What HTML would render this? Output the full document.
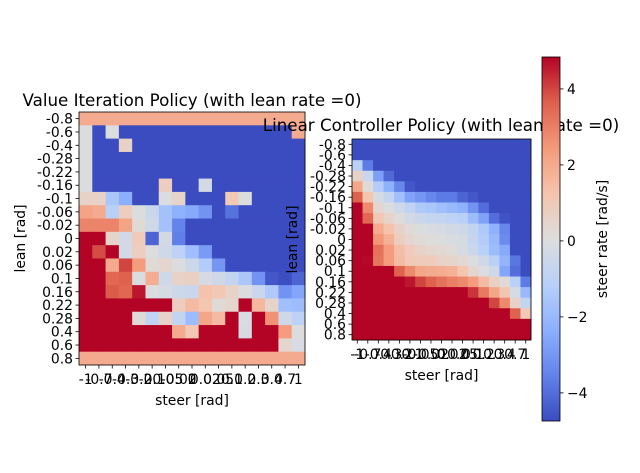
<!DOCTYPE html>
<html><head><meta charset="utf-8"><style>
html,body{margin:0;padding:0;background:#fff}
svg{display:block;font-family:"DejaVu Sans","Liberation Sans",sans-serif}
</style></head><body>
<svg id="fig" width="640" height="473" viewBox="0 0 640 473" xmlns="http://www.w3.org/2000/svg"></svg>
<script>
const R=4.85,B=-4.85,S=2.0;
const rowLabels=["-0.8","-0.6","-0.4","-0.28","-0.22","-0.16","-0.1","-0.06","-0.02","0","0.02","0.06","0.1","0.16","0.22","0.28","0.4","0.6","0.8"];
const colLabels=["-1","-0.7","-0.4","-0.3","-0.2","-0.1","-0.05","-0.02","0","0.02","0.05","0.1","0.2","0.3","0.4","0.7","1"];
const cbTicks=[4,2,0,-2,-4];
const cbTickLabels=["4","2","0","\u22122","\u22124"];
const vmin=-4.74, vmax=4.84;
function rep(v,n){return Array(n).fill(v);}
const valueIteration=[
rep(S,17),
[0,B,0,...rep(B,13),S],
[0,B,B,0.6,...rep(B,13)],
[0,...rep(B,16)],
[0,...rep(B,16)],
[0,B,B,B,B,B,0.8,B,B,-0.3,B,B,B,B,B,B,B],
[0.6,0.6,-1.5,-2.4,B,B,0,0.5,B,B,B,1.0,0,B,B,B,B],
[2.2,2.0,-1.1,0.8,0,-0.6,-1.7,-2.3,-2.5,-3.1,B,-3.9,B,B,B,B,B],
[2.9,2.9,2.9,2.2,0.2,-0.4,-1.7,-3.5,...rep(B,9)],
[R,R,0.5,-0.3,0.9,-4.2,-0.3,-3.6,...rep(B,9)],
[R,3.9,R,-0.3,0.8,0,-0.4,-1.0,-1.8,-2.9,...rep(B,7)],
[R,R,2.0,4.0,2.4,0.2,0.4,0,-0.5,-1.3,-3.0,...rep(B,6)],
[R,R,3.5,3.6,0,1.9,-0.4,0.6,0.7,-0.2,-0.4,-0.8,-1.5,-3.1,-4.5,-4.7,-4.2],
[R,R,3.7,3.5,4.6,0,-0.2,-0.5,-0.6,1.3,1.1,0.6,0,-0.6,-1.4,-3.1,-2.6],
[...rep(R,7),0.8,1.5,1.2,0.2,0.4,R,1.6,0.5,-1.8,-1.9],
[...rep(R,4),0.2,-0.9,0.6,-0.8,-1.9,2.1,1.5,R,-0.1,R,2.6,-0.4,-1.0],
[...rep(R,7),2.0,1.1,R,R,R,-0.2,R,R,2.4,0],
[...rep(R,15),0.4,-0.1],
rep(S,17)
];
const linearController=[
rep(B,17),
rep(B,17),
[-1.1,-3.7,...rep(B,15)],
[0.6,-0.6,-2.8,-4.1,...rep(B,13)],
[2.1,0.2,-1.3,-2.3,-3.4,-4.5,...rep(B,11)],
[3.6,1.2,-0.2,-0.8,-1.8,-2.7,-3.0,-3.4,-3.7,-3.7,-4.2,-4.5,...rep(B,5)],
[R,2.8,0.4,0,-0.4,-0.9,-1.4,-1.5,-1.8,-2.0,-2.3,-3.1,-4.0,...rep(B,4)],
[R,3.5,1.1,0.5,0.1,-0.3,-0.6,-0.7,-0.8,-1.0,-1.1,-1.9,-2.7,-4.0,-4.6,B,B],
[R,R,2.0,1.3,0.6,0.2,0,-0.1,-0.2,-0.3,-0.5,-0.8,-1.4,-2.3,-3.4,B,B],
[R,R,2.5,1.8,0.8,0.4,0.2,0.1,0,-0.1,-0.2,-0.7,-1.3,-2.0,-3.3,B,B],
[R,R,3.3,2.4,1.4,0.9,0.6,0.4,0.3,0.15,-0.2,-0.6,-1.1,-1.9,-2.5,B,B],
[R,4.8,3.2,2.4,1.5,1.0,0.9,0.9,0.6,0.5,0.3,0,-0.4,-1.1,-2.2,-3.8,B],
[R,R,R,R,3.6,2.8,2.1,2.0,1.9,1.8,1.2,0.4,0,-0.4,-2.6,-4.0,B],
[R,R,R,R,R,4.6,4.0,3.6,3.3,3.0,2.8,2.4,1.5,0.7,0.2,-1.1,-3.7],
[...rep(R,11),4.2,3.1,2.1,1.2,-0.2,-2.0],
[...rep(R,13),4.0,2.8,0.6,-0.8],
[...rep(R,15),3.6,1.0],
rep(R,17),
rep(R,17)
];
const cm=[[59,76,192],[98,130,234],[141,176,254],[184,208,249],[221,221,221],[245,196,173],[244,154,123],[222,96,77],[180,4,38]];
function color(v){let t=(v-vmin)/(vmax-vmin);t=Math.max(0,Math.min(1,t));const f=t*8,i=Math.min(7,Math.floor(f)),u=f-i;const a=cm[i],b=cm[i+1];return `rgb(${a.map((x,k)=>Math.round(x+(b[k]-x)*u)).join(',')})`;}
const NS="http://www.w3.org/2000/svg",svg=document.getElementById('fig');
function el(tag,attrs,parent){const e=document.createElementNS(NS,tag);for(const k in attrs)e.setAttribute(k,attrs[k]);(parent||svg).appendChild(e);return e;}
function txt(s,attrs,parent){const e=el('text',attrs,parent);e.textContent=s;return e;}
const FS=13.9, TFS=16.7;
function heatmap(name,data,x0,y0,w,h,title,tx,ty,ylx){
  const g=el('g',{});
  
  
  const cw=w/colLabels.length,ch=h/rowLabels.length;
  const xs=c=>x0+c*cw, ys=r=>y0+r*ch;
  data.forEach((row,r)=>row.forEach((v,c)=>{
    const rc=el('rect',{x:xs(c),y:ys(r),width:cw+0.4,height:ch+0.4,fill:color(v)},g);
    
    
  }));
  const fr=el('rect',{x:x0,y:y0,width:w,height:h,fill:'none',stroke:'#000','stroke-width':0.8},g);
  
  
  rowLabels.forEach((l,r)=>{const y=ys(r)+ch/2;el('line',{x1:x0-3.5,x2:x0,y1:y,y2:y,stroke:'#000','stroke-width':0.8},g);
    const t=txt(l,{x:x0-6,y:y+5,'font-size':FS,'text-anchor':'end'},g);
    
    });
  colLabels.forEach((l,c)=>{const x=xs(c)+cw/2;el('line',{x1:x,x2:x,y1:y0+h,y2:y0+h+3.5,stroke:'#000','stroke-width':0.8},g);
    const t=txt(l,{x:x,y:y0+h+19,'font-size':FS,'text-anchor':'middle'},g);
    
    });
  const xl=txt('steer [rad]',{x:x0+w/2,y:y0+h+40,'font-size':FS,'text-anchor':'middle'},g);
  
  
  const yl=txt('lean [rad]',{x:0,y:0,'font-size':FS,'text-anchor':'middle',transform:`translate(${ylx},${y0+h/2}) rotate(-90)`},g);
  
  
  const tt=txt(title,{x:tx,y:ty,'font-size':TFS,'text-anchor':'middle'},g);
  
  
}
heatmap('value-iteration-heatmap',valueIteration,79,112,226,253,'Value Iteration Policy (with lean rate =0)',192,106,25);
heatmap('linear-controller-heatmap',linearController,352,139,179,201,'Linear Controller Policy (with lean rate =0)',441,131,297);
const cb=el('g',{});


const cx=542,cy0=57,cy1=421,cwid=18;
const cbY=v=>cy1-(v-vmin)/(vmax-vmin)*(cy1-cy0);
const defs=el('defs',{},cb),grad=el('linearGradient',{id:'cg',x1:0,y1:1,x2:0,y2:0},defs);
cm.forEach((c,i)=>el('stop',{offset:(i/8),'stop-color':`rgb(${c.join(',')})`},grad));
el('rect',{x:cx,y:cy0,width:cwid,height:cy1-cy0,fill:'url(#cg)',stroke:'#000','stroke-width':0.8},cb);
cbTicks.forEach((v,i)=>{const y=cbY(v);el('line',{x1:cx+cwid,x2:cx+cwid+3.5,y1:y,y2:y,stroke:'#000','stroke-width':0.8},cb);
  const t=txt(cbTickLabels[i],{x:cx+cwid+7,y:y+5,'font-size':FS},cb);
  
  });
const cl=txt('steer rate [rad/s]',{x:0,y:0,'font-size':FS,'text-anchor':'middle',transform:`translate(607,${(cy0+cy1)/2}) rotate(-90)`},cb);


</script>
</body></html>
